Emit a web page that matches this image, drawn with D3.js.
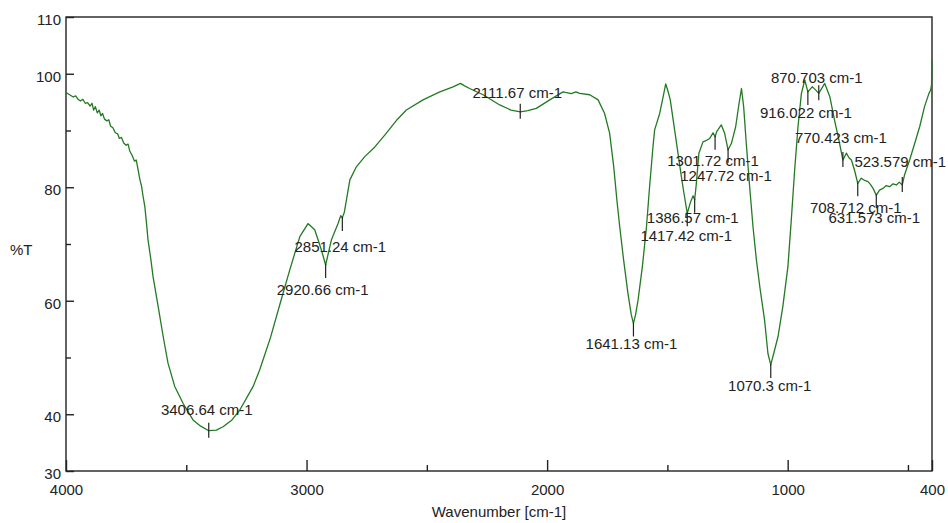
<!DOCTYPE html>
<html>
<head>
<meta charset="utf-8">
<script src="https://cdn.jsdelivr.net/npm/d3@7"></script>
<style>
  body { margin: 0; background: #fff; }
  text { font-family: "Liberation Sans", Arial, sans-serif; font-size: 15px; fill: #222; }
</style>
</head>
<body>
<div id="chart"></div>
<script>
// spectrum (wavenumber in cm-1, transmittance in %T)
const wavenumbers = [
  4000, 3985, 3970, 3960, 3950, 3940, 3930, 3920, 3910, 3900, 3892, 3885, 3878, 3870, 3862, 3855, 3848, 3840,
  3830, 3822, 3815, 3805, 3795, 3785, 3778, 3770, 3760, 3750, 3742, 3735, 3725, 3715, 3708, 3700, 3693, 3686,
  3680, 3672, 3665, 3659, 3648, 3638, 3617, 3596, 3576, 3548, 3513, 3472, 3440, 3406.64, 3375, 3347, 3310, 3278,
  3222, 3195, 3150, 3104, 3070, 3028, 2994, 2966, 2938, 2920.66, 2897, 2869, 2858, 2851.24, 2843, 2834, 2820,
  2793, 2758, 2716, 2675, 2626, 2585, 2516, 2446, 2391, 2360, 2345, 2322, 2266, 2197, 2150, 2111.67, 2080, 2045,
  1989, 1934, 1900, 1880, 1865, 1823, 1788, 1761, 1740, 1723, 1710, 1698, 1682, 1664, 1650, 1641.13, 1632, 1622,
  1604, 1587, 1574, 1560, 1553, 1532, 1515, 1507, 1498, 1488, 1470, 1456, 1442, 1431, 1417.42, 1403, 1393,
  1386.57, 1380, 1369, 1352, 1340, 1324, 1310, 1301.72, 1295, 1290, 1276, 1262, 1247.72, 1234, 1216, 1202, 1192,
  1183, 1172, 1158, 1144, 1130, 1114, 1096, 1082, 1070.3, 1058, 1040, 1020, 999, 985, 971, 957, 943, 929,
  916.022, 898, 885, 870.703, 846, 825, 805, 787, 770.423, 756, 745, 735, 722, 708.712, 694, 680, 666, 656, 645,
  631.573, 618, 604, 590, 576, 562, 548, 536, 523.579, 514, 493, 472, 451, 431, 413, 406, 402, 400
];
const transmittance = [
  96.7, 96.3, 95.9, 96.1, 95.5, 95.2, 95.5, 94.8, 94.9, 94.3, 94.8, 93.6, 94.2, 93.1, 93.6, 92.6, 93.0, 92.0,
  91.7, 91.9, 90.8, 90.5, 89.6, 89.4, 88.6, 88.8, 87.8, 87.4, 87.6, 86.4, 85.6, 84.6, 84.8, 83.0, 81.4, 80.2,
  78.5, 76.5, 73.5, 70.7, 67.5, 64.2, 59.0, 53.7, 49.0, 44.9, 41.9, 39.0, 37.9, 37.1, 37.2, 37.8, 39.0, 40.7,
  44.9, 47.8, 53.5, 60.4, 65.4, 71.3, 73.6, 72.5, 68.9, 66.3, 70.7, 73.6, 75.0, 74.6, 75.6, 77.8, 81.3,
  83.6, 85.4, 87.1, 89.2, 91.8, 93.6, 95.4, 96.8, 97.7, 98.3, 97.9, 97.4, 96.3, 94.5, 93.6, 93.3, 93.5, 93.9,
  95.4, 96.8, 96.5, 96.8, 96.55, 96.3, 95.4, 93.0, 89.5, 83.6, 77.75, 73.0, 67.2, 61.3, 57.5, 56.0, 57.6, 60.1,
  66.0, 73.0, 80.1, 87.1, 90.1, 93.0, 96.5, 98.2, 97.0, 95.4, 90.1, 86.0, 81.9, 78.9, 75.4, 77.5, 78.5,
  77.8, 80.5, 86.0, 88.0, 88.2, 88.6, 89.6, 88.9, 89.8, 90.1, 91.0, 89.5, 86.6, 87.7, 90.7, 94.8, 97.4,
  94.2, 87.7, 80.1, 73.0, 67.2, 61.9, 56.6, 50.7, 48.7, 50.7, 53.7, 59.0, 66.0, 74.2, 83.0, 90.7, 96.5, 98.9,
  96.8, 97.7, 97.2, 96.55, 98.3, 96.0, 91.8, 88.3, 84.8, 86.0, 85.2, 84.8, 83.0, 80.7, 81.6, 81.2, 81.0, 80.5, 79.8,
  78.6, 79.5, 79.8, 80.3, 80.1, 80.6, 80.4, 80.9, 80.4, 82.2, 84.8, 87.7, 90.7, 94.2, 96.5, 97.1, 98.0, 102.4
];

// picked peaks
const peakWavenumbers = [3406.64, 2920.66, 2851.24, 2111.67, 1641.13, 1417.42, 1386.57, 1301.72,
  1247.72, 1070.3, 916.022, 870.703, 770.423, 708.712, 631.573, 523.579];
const peakLabels = peakWavenumbers.map(d => d + " cm-1");

// axis ticks
const xMajorTicks = [4000, 3000, 2000, 1000, 400];
const xMinorTicks = [3500, 2500, 1500, 500];
const yMajorTicks = [30, 40, 60, 80, 100, 110];
const yMinorTicks = [50, 70, 90];

// where each peak label sits relative to its peak (pixels)
const labelPlacement = {
  3406.64: [-2, -21], 2920.66: [-3, 25], 2851.24: [-2, 29], 2111.67: [-3, -19],
  1641.13: [-2, 20], 1417.42: [-1, 22], 1386.57: [-2, 18], 1301.72: [-2, 24],
  1247.72: [-2, 26], 1070.3: [-1, 21], 916.022: [-2, 21], 870.703: [-2, -16],
  770.423: [-2, -22], 708.712: [-2, 24], 631.573: [-2, 23], 523.579: [-2, -23]
};

const width = 948, height = 523;
const plot = { left: 66, right: 932, top: 17, bottom: 471 };

const data = wavenumbers.map((w, i) => ({ w: w, t: transmittance[i] }));

const x = d3.scaleLinear().domain([4000, 400]).range([plot.left, plot.right]);
const y = d3.scaleLinear().domain([30, 110]).range([plot.bottom, plot.top]);

const svg = d3.select("#chart").append("svg")
  .attr("width", width)
  .attr("height", height);

// frame
svg.append("rect")
  .attr("x", plot.left)
  .attr("y", plot.top)
  .attr("width", plot.right - plot.left)
  .attr("height", plot.bottom - plot.top)
  .attr("fill", "none")
  .attr("stroke", "#222")
  .attr("stroke-width", 1.4);

// x axis, ticks point into the plot
const xAxisMajor = svg.append("g")
  .attr("transform", "translate(0," + plot.bottom + ")")
  .call(d3.axisBottom(x).tickValues(xMajorTicks).tickSizeInner(-11).tickSizeOuter(0).tickPadding(13).tickFormat(d3.format("d")));
const xAxisMinor = svg.append("g")
  .attr("transform", "translate(0," + plot.bottom + ")")
  .call(d3.axisBottom(x).tickValues(xMinorTicks).tickSizeInner(-6).tickSizeOuter(0).tickFormat(""));

// y axis
const yAxisMajor = svg.append("g")
  .attr("transform", "translate(" + plot.left + ",0)")
  .call(d3.axisLeft(y).tickValues(yMajorTicks).tickSizeInner(-8).tickSizeOuter(0).tickPadding(5));
const yAxisMinor = svg.append("g")
  .attr("transform", "translate(" + plot.left + ",0)")
  .call(d3.axisLeft(y).tickValues(yMinorTicks).tickSizeInner(-5).tickSizeOuter(0).tickFormat(""));

[xAxisMajor, xAxisMinor, yAxisMajor, yAxisMinor].forEach(g => {
  g.select(".domain").remove();
  g.selectAll(".tick line").attr("stroke", "#222").attr("stroke-width", 1.4);
  g.selectAll(".tick text").attr("font-size", 15).attr("font-family", null).attr("fill", "#222");
});
yAxisMajor.selectAll(".tick text").attr("dy", "0.5em");
svg.selectAll("g").attr("font-family", null).attr("font-size", null);

// axis titles
svg.append("text")
  .attr("x", (plot.left + plot.right) / 2)
  .attr("y", 517)
  .attr("text-anchor", "middle")
  .text("Wavenumber [cm-1]");

svg.append("text")
  .attr("x", 10)
  .attr("y", 255)
  .text("%T");

// the spectrum
const line = d3.line()
  .x(d => x(d.w))
  .y(d => y(d.t));

svg.append("path")
  .datum(data)
  .attr("d", line)
  .attr("fill", "none")
  .attr("stroke", "#237a23")
  .attr("stroke-width", 1.3)
  .attr("stroke-linejoin", "round");

// peak markers and labels
const peakT = w => data.find(d => d.w === w).t;

const peaks = svg.append("g").selectAll("g")
  .data(peakWavenumbers)
  .enter().append("g")
  .attr("transform", d => "translate(" + x(d) + "," + y(peakT(d)) + ")");

peaks.append("line")
  .attr("x1", 0).attr("x2", 0)
  .attr("y1", d => labelPlacement[d][1] < 0 ? -8 : -1)
  .attr("y2", d => labelPlacement[d][1] < 0 ? 7 : 13)
  .attr("stroke", "#222")
  .attr("stroke-width", 1.2);

peaks.append("text")
  .attr("x", d => labelPlacement[d][0])
  .attr("y", d => labelPlacement[d][1])
  .attr("dy", "0.35em")
  .attr("text-anchor", "middle")
  .text((d, i) => peakLabels[i]);
</script>
</body>
</html>
